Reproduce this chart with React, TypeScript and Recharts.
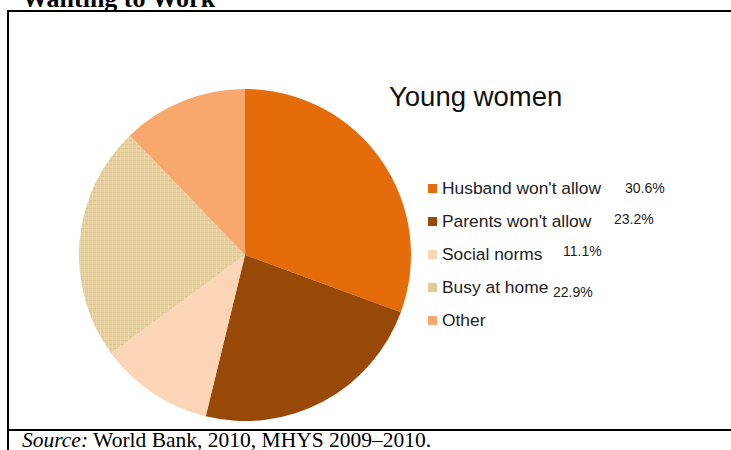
import React from "react";
import { PieChart, Pie, Cell, Legend } from "recharts";

// reasons for not wanting to work, young women
const reasons = ["Husband won't allow", "Parents won't allow", "Social norms", "Busy at home", "Other"];
const shares = [30.6, 23.2, 11.1, 22.9, 12.2];
const shareLabels = ["30.6%", "23.2%", "11.1%", "22.9%", ""];

const sliceFills = ["#E46C0A", "#984807", "#FBD5B5", "url(#linen)", "#F8A86D"];
const swatches = ["#E46C0A", "#984807", "#FBD5B5", "#E3CB97", "#F8A86D"];
// where each percentage sits next to its legend row
const pctPos = [
  { left: 197, dy: 0 },
  { left: 186, dy: -2 },
  { left: 135, dy: -3 },
  { left: 125, dy: 5 },
  { left: 0, dy: 0 },
];

const data = reasons.map((name, i) => ({ name, value: shares[i] }));

const LegendBox = () => (
  <div style={{ fontFamily: "'Liberation Sans', Arial, sans-serif" }}>
    {reasons.map((r, i) => (
      <div key={r} style={{ position: "relative", height: 33, display: "flex", alignItems: "center" }}>
        <span style={{ width: 9, height: 9, background: swatches[i], marginRight: 5, flex: "none" }} />
        <span style={{ fontSize: 17.4, color: "#222" }}>{r}</span>
        {shareLabels[i] && (
          <span
            style={{
              position: "absolute",
              left: pctPos[i].left,
              top: 8 + pctPos[i].dy,
              fontSize: 14,
              color: "#222",
            }}
          >
            {shareLabels[i]}
          </span>
        )}
      </div>
    ))}
  </div>
);

export default function App() {
  return (
    <div style={{ position: "absolute", left: 0, top: 0, width: 731, height: 450, overflow: "hidden", background: "#fff" }}>
      <PieChart width={731} height={450}>
        <defs>
          <pattern id="linen" width="4" height="4" patternUnits="userSpaceOnUse">
            <rect width="4" height="4" fill="#E6D09F" />
            <rect width="4" height="1" fill="#D8BF86" opacity="0.6" />
            <rect width="1" height="4" fill="#F1DEB3" opacity="0.7" />
          </pattern>
        </defs>
        <Pie
          data={data}
          dataKey="value"
          nameKey="name"
          cx={240}
          cy={250}
          outerRadius={166}
          startAngle={90}
          endAngle={-270}
          stroke="none"
          isAnimationActive={false}
        >
          {data.map((d, i) => (
            <Cell key={d.name} fill={sliceFills[i]} />
          ))}
        </Pie>
        <Legend
          layout="vertical"
          content={<LegendBox />}
          wrapperStyle={{ position: "absolute", left: 428, top: 172, width: 280 }}
        />
      </PieChart>
      <svg width={731} height={450} style={{ position: "absolute", left: 0, top: 0, pointerEvents: "none" }}>
        <text x={22} y={7} fontFamily="'Liberation Serif', serif" fontWeight="bold" fontSize={26} fill="#000">
          Wanting to Work
        </text>
        <text x={389} y={106} fontFamily="'Liberation Sans', Arial, sans-serif" fontSize={27.5} fill="#111">
          Young women
        </text>
        <rect x={7} y={10} width={724} height={2} fill="#000" />
        <rect x={7} y={10} width={2} height={440} fill="#000" />
        <rect x={7} y={429} width={724} height={2} fill="#000" />
        <text x={22} y={447} fontFamily="'Liberation Serif', serif" fontSize={21.5} fill="#000">
          <tspan fontStyle="italic">Source:</tspan> World Bank, 2010, MHYS 2009–2010.
        </text>
      </svg>
    </div>
  );
}
